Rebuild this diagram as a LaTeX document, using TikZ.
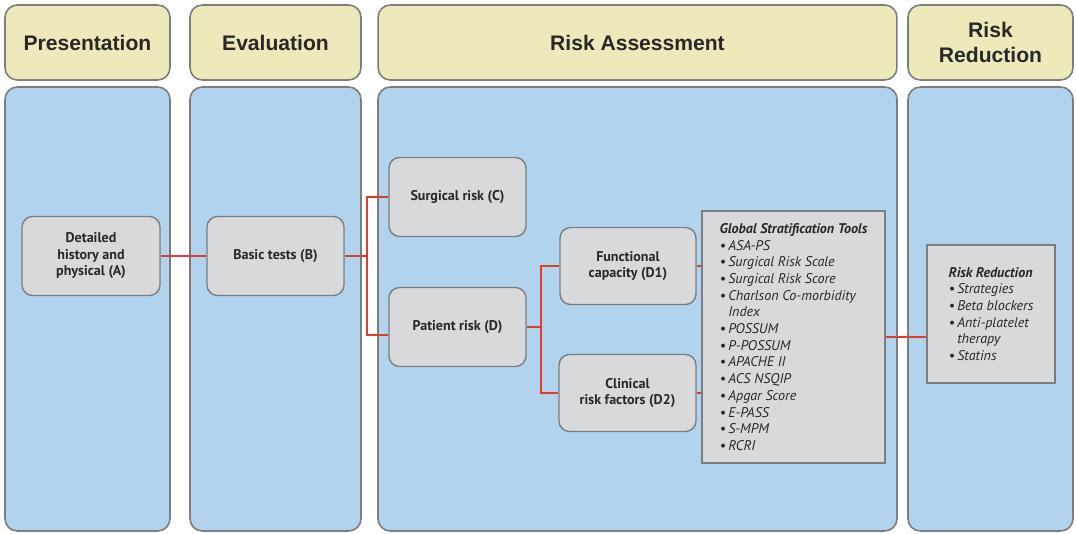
\documentclass[tikz,border=0pt]{standalone}
\usepackage{fontspec}
\setmainfont{PT Sans}
\newfontfamily\headfont{Liberation Sans}
\usetikzlibrary{positioning, calc}
\definecolor{hyellow}{RGB}{238,233,186}
\definecolor{lblue}{RGB}{177,211,237}
\definecolor{bgray}{RGB}{216,217,219}
\definecolor{egray}{RGB}{125,125,125}
\definecolor{lred}{RGB}{222,62,42}
\definecolor{tgray}{RGB}{40,40,40}
\newcommand{\bul}{\textbullet\,}
\newcommand{\cont}{\phantom{\textbullet\,}}

\begin{document}
\begin{tikzpicture}[x=0.02cm, y=-0.02cm,
  head/.style={draw=egray, line width=0.9pt, rounded corners=7pt, fill=hyellow,
  minimum height=1.5cm, align=center, text=tgray,
  font=\headfont\bfseries\fontsize{12}{13.8}\selectfont},
  lane/.style={draw=egray, line width=0.9pt, rounded corners=7pt, fill=lblue},
  stepbox/.style={draw=egray, line width=0.8pt, rounded corners=6pt, fill=bgray,
  minimum width=2.74cm, minimum height=1.58cm, align=center, text=tgray,
  font=\bfseries\fontsize{8}{9.4}\selectfont},
  listbox/.style={draw=egray, line width=0.8pt, fill=bgray, align=left, text=tgray,
  font=\itshape\fontsize{8}{9.5}\selectfont},
  link/.style={lred, line width=1.1pt}
]
\useasboundingbox (0,0) rectangle (1076,534);
% column headers
\node[head, minimum width=3.3cm]   (hpres) at (87.5,42.5)  {Presentation};
\node[head, minimum width=3.42cm]  (heval) at (275.5,42.5) {Evaluation};
\node[head, minimum width=10.38cm] (hrisk) at (637.5,42.5) {Risk Assessment};
\node[head, minimum width=3.3cm]   (hred)  at (990.5,42.5) {Risk\\Reduction};
% lanes
\draw[lane] (5,87)   rectangle (170,531);
\draw[lane] (190,87) rectangle (361,531);
\draw[lane] (378,87) rectangle (897,531);
\draw[lane] (908,87) rectangle (1073,531);
% steps
\node[stepbox, minimum width=2.76cm] (A) at (91,256)  {Detailed\\history and\\physical (A)};
\node[stepbox] (B)  at (275.5,256) {Basic tests (B)};
\node[stepbox] (C)  at (457.5,197) {Surgical risk (C)};
\node[stepbox] (D)  at (457.5,327) {Patient risk (D)};
\node[stepbox, minimum width=2.72cm, minimum height=1.54cm] (D1) at (628,266) {Functional\\capacity (D1)};
\node[stepbox, minimum height=1.54cm] (D2) at (627.5,393) {Clinical\\risk factors (D2)};
\node[listbox, minimum width=3.66cm, minimum height=5.04cm] (GST) at (793.5,337)
  {\textbf{Global Stratification Tools}\\ \bul ASA-PS\\ \bul Surgical Risk Scale\\
   \bul Surgical Risk Score\\ \bul Charlson Co-morbidity\\ \cont Index\\ \bul POSSUM\\
   \bul P-POSSUM\\ \bul APACHE II\\ \bul ACS NSQIP\\ \bul Apgar Score\\ \bul E-PASS\\
   \bul S-MPM\\ \bul RCRI};
\node[listbox, minimum width=2.56cm, minimum height=2.76cm] (RR) at (991,314)
  {\textbf{Risk Reduction}\\ \bul Strategies\\ \bul Beta blockers\\ \bul Anti-platelet\\
   \cont therapy\\ \bul Statins};
% links
\draw[link] (A) -- (B);
\draw[link] (B.east) -- ++(22,0) coordinate (jb);
\draw[link] (jb) |- (C.west);
\draw[link] (jb) |- ([yshift=-0.16cm]D.west);
\draw[link] (D.east) -- ++(14,0) coordinate (jd);
\draw[link] (jd) |- (D1.west);
\draw[link] (jd) |- (D2.west);
\draw[link] (D1.east) -- (D1.east -| GST.west);
\draw[link] (D2.east) -- (D2.east -| GST.west);
\draw[link] (GST.east) -- (GST.east -| RR.west);
\end{tikzpicture}
\end{document}
